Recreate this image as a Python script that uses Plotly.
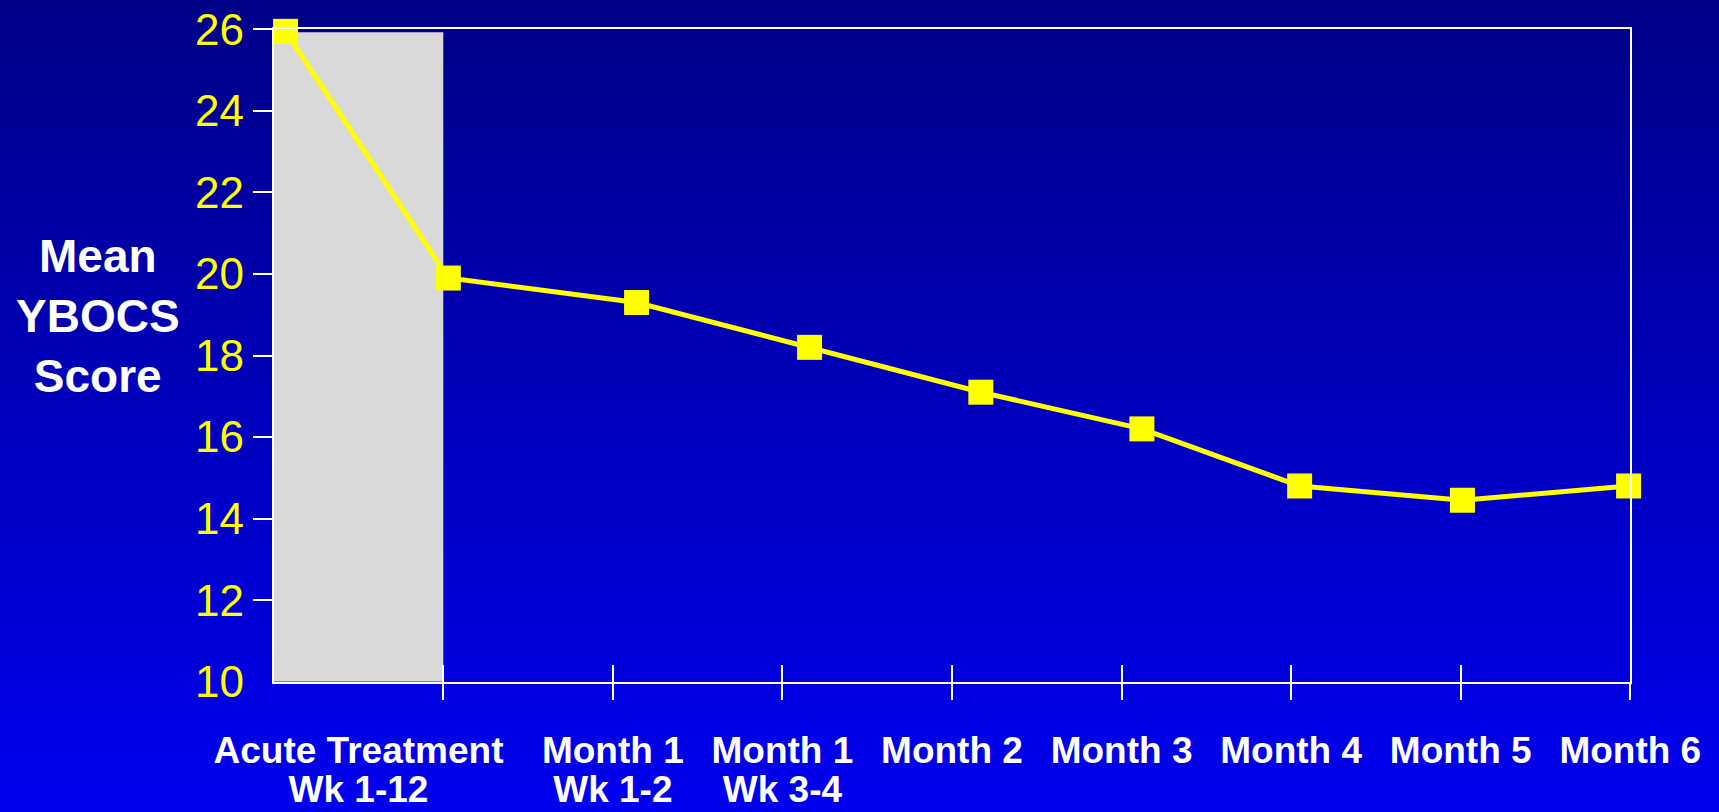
import base64
import plotly.graph_objects as go

# Mean YBOCS score across acute treatment and monthly follow-up
score_x = [0.07, 1.03, 2.14, 3.16, 4.17, 5.12, 6.05, 7.01, 7.99]
score_y = [25.95, 19.9, 19.3, 18.2, 17.1, 16.2, 14.8, 14.45, 14.8]

# Category labels along the time axis (two text rows) and their positions
label_pos = [0.5, 2, 3, 4, 5, 6, 7, 8]
label_row1 = ["Acute Treatment", "Month 1", "Month 1", "Month 2",
              "Month 3", "Month 4", "Month 5", "Month 6"]
label_row2_pos = [0.5, 2, 3]
label_row2 = ["Wk 1-12", "Wk 1-2", "Wk 3-4"]
interval_ticks = [1, 2, 3, 4, 5, 6, 7, 8]

# Y axis values
y_label_vals = [10, 12, 14, 16, 18, 20, 22, 24, 26]
y_mark_vals = [12, 14, 16, 18, 20, 22, 24, 26]

# Acute treatment period shading
acute_x = [0, 1]
acute_y = [10, 25.93]

W, H = 1719, 812
FONT = "Liberation Sans, Arial, Helvetica, sans-serif"
YELLOW = "#FFFF00"

# Vertical navy-to-blue backdrop
svg = (
    '<svg xmlns="http://www.w3.org/2000/svg" width="100" height="100" '
    'viewBox="0 0 100 100" preserveAspectRatio="none">'
    '<defs><linearGradient id="g" x1="0" y1="0" x2="0" y2="1">'
    '<stop offset="0" stop-color="#000088"/>'
    '<stop offset="1" stop-color="#0000F0"/>'
    '</linearGradient></defs>'
    '<rect x="0" y="0" width="100" height="100" fill="url(#g)"/></svg>'
)
bg_uri = "data:image/svg+xml;base64," + base64.b64encode(svg.encode()).decode()

fig = go.Figure()

fig.add_trace(go.Scatter(
    x=score_x, y=score_y,
    mode="lines+markers",
    line=dict(color=YELLOW, width=5),
    marker=dict(symbol="square", size=25, color=YELLOW),
    cliponaxis=False,
    showlegend=False,
    hoverinfo="x+y",
))

# empty traces so the overlay axes (tick marks, second label row) get drawn
fig.add_trace(go.Scatter(x=[], y=[], xaxis="x2", yaxis="y2", showlegend=False, hoverinfo="skip"))
fig.add_trace(go.Scatter(x=[], y=[], xaxis="x3", yaxis="y", showlegend=False, hoverinfo="skip"))
fig.add_trace(go.Scatter(x=[], y=[], xaxis="x4", yaxis="y", showlegend=False, hoverinfo="skip"))

fig.add_shape(
    type="rect", xref="x", yref="y",
    x0=acute_x[0], x1=acute_x[1], y0=acute_y[0], y1=acute_y[1],
    fillcolor="#D9D9D9", line=dict(width=0), layer="below",
)

x_dom = [273.7 / W, 1630.3 / W]
y_dom = [1 - 681.7 / H, 1 - 29.3 / H]
x_range = [0, 8]
y_range = [10, 26]

common = dict(fixedrange=True, showgrid=False, zeroline=False, automargin=False)
xlabel_font = dict(family=FONT, size=37, color="white", weight="bold")

fig.update_layout(
    width=W, height=H,
    margin=dict(l=0, r=0, t=0, b=0, pad=0, autoexpand=False),
    paper_bgcolor="#0000BB",
    plot_bgcolor="rgba(0,0,0,0)",
    images=[dict(
        source=bg_uri, xref="paper", yref="paper",
        x=0, y=1, sizex=1, sizey=1, xanchor="left", yanchor="top",
        sizing="stretch", layer="below",
    )],
    xaxis=dict(
        domain=x_dom, range=x_range, **common,
        showline=True, mirror=True, linecolor="white", linewidth=2,
        tickvals=label_pos, ticktext=label_row1, ticks="",
        tickfont=xlabel_font, ticklabelstandoff=35,
    ),
    xaxis2=dict(
        domain=x_dom, range=x_range, overlaying="x", anchor="y2", **common,
        showline=False,
        tickvals=interval_ticks, ticks="outside", ticklen=17, tickwidth=2,
        tickcolor="white", showticklabels=False,
    ),
    xaxis3=dict(
        domain=x_dom, range=x_range, overlaying="x", anchor="y", **common,
        showline=False,
        tickvals=interval_ticks, ticks="inside", ticklen=17, tickwidth=2,
        tickcolor="white", showticklabels=False,
    ),
    xaxis4=dict(
        domain=x_dom, range=x_range, overlaying="x", anchor="y", **common,
        showline=False,
        tickvals=label_row2_pos, ticktext=label_row2, ticks="",
        tickfont=xlabel_font, ticklabelstandoff=82,
    ),
    yaxis=dict(
        domain=y_dom, range=y_range, **common,
        showline=True, mirror=True, linecolor="white", linewidth=2,
        tickvals=y_label_vals, ticks="",
        tickfont=dict(family=FONT, size=44, color=YELLOW),
        ticklabelstandoff=19,
    ),
    yaxis2=dict(
        domain=y_dom, range=y_range, overlaying="y", anchor="x2", side="left",
        **common, showline=False,
        tickvals=y_mark_vals, ticks="outside", ticklen=20, tickwidth=2,
        tickcolor="white", showticklabels=False,
    ),
    annotations=[dict(
        text="Mean<br>YBOCS<br>Score",
        xref="paper", yref="paper", x=98 / W, y=1 - 316 / H,
        xanchor="center", yanchor="middle", showarrow=False, align="center",
        font=dict(family=FONT, size=46, color="white", weight="bold"),
    )],
)

fig.write_html("out.html")
